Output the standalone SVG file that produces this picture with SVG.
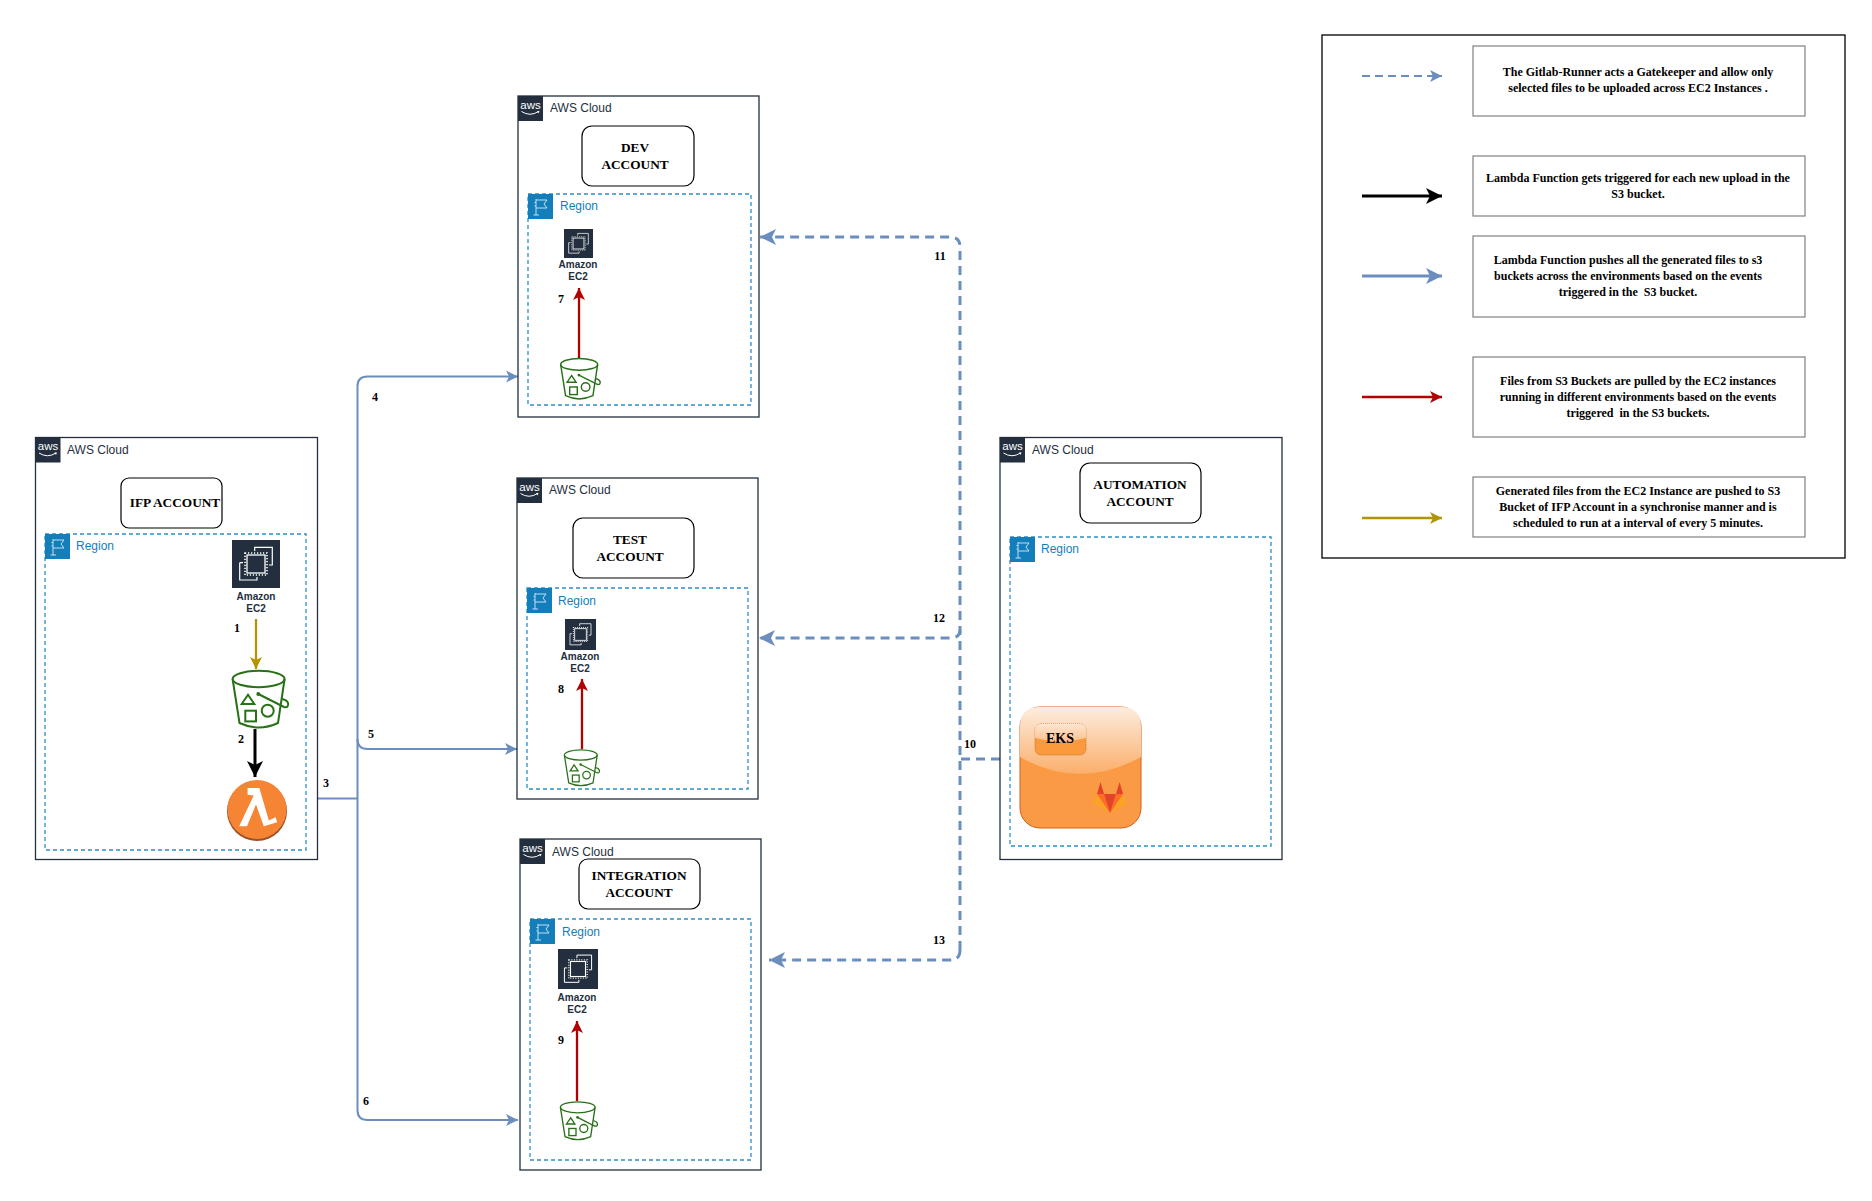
<svg xmlns="http://www.w3.org/2000/svg" xmlns:xlink="http://www.w3.org/1999/xlink" width="1872" height="1201" viewBox="0 0 1872 1201">
<style>
.cloud{fill:#fff;stroke:#232F3E;stroke-width:1.3}
.region{fill:none;stroke:#2E8FC9;stroke-width:1.3;stroke-dasharray:4 3}
.acct{fill:#fff;stroke:#000;stroke-width:1.2}
.legend{fill:#fff;stroke:#808080;stroke-width:1.2}
.t{font-family:"Liberation Serif","Times New Roman",serif;font-weight:bold;fill:#000;text-anchor:middle}
.a{font-size:13.3px}
.n{font-size:12px}
.l{font-size:12px}
.cl{font-family:"Liberation Sans",Arial,sans-serif;font-size:12px;fill:#232F3E}
.rg{font-family:"Liberation Sans",Arial,sans-serif;font-size:12px;fill:#147EBA}
.ec{font-family:"Liberation Sans",Arial,sans-serif;font-size:10px;font-weight:bold;fill:#232F3E;text-anchor:middle}
.line{fill:none;stroke-linejoin:round}
.blue{stroke:#6C8EBF;stroke-width:2}
.dash{stroke:#6C8EBF;stroke-width:3;stroke-dasharray:9 6}
.red{stroke:#B20000;stroke-width:2.3}
.gold{stroke:#B09500;stroke-width:2.3}
.blk{stroke:#000;stroke-width:3}
</style>
<defs>
<marker id="mb" markerUnits="userSpaceOnUse" markerWidth="14" markerHeight="14" refX="12" refY="6" orient="auto" overflow="visible"><path d="M0 0L12 6L0 12L3 6Z" fill="#6C8EBF"/></marker>
<marker id="mB" markerUnits="userSpaceOnUse" markerWidth="18" markerHeight="18" refX="16" refY="8" orient="auto" overflow="visible"><path d="M0 0L16 8L0 16L4 8Z" fill="#6C8EBF"/></marker>
<marker id="mr" markerUnits="userSpaceOnUse" markerWidth="14" markerHeight="14" refX="12" refY="6" orient="auto" overflow="visible"><path d="M0 0L12 6L0 12L3 6Z" fill="#B20000"/></marker>
<marker id="mg" markerUnits="userSpaceOnUse" markerWidth="14" markerHeight="14" refX="12" refY="6" orient="auto" overflow="visible"><path d="M0 0L12 6L0 12L3 6Z" fill="#B09500"/></marker>
<marker id="mk" markerUnits="userSpaceOnUse" markerWidth="18" markerHeight="18" refX="16" refY="8" orient="auto" overflow="visible"><path d="M0 0L16 8L0 16L4 8Z" fill="#000"/></marker>
<symbol id="awsLogo" viewBox="0 0 25 25" overflow="visible">
<rect width="25" height="25" fill="#232F3E"/>
<text x="12.5" y="12.5" text-anchor="middle" font-family="Liberation Sans,Arial,sans-serif" font-size="11.5" fill="#fff">aws</text>
<path d="M3.5 15.5Q12 21 20.5 15.5" fill="none" stroke="#fff" stroke-width="1"/><path d="M19 15L21.5 15L20.5 17.5Z" fill="#fff"/>
</symbol>
<symbol id="flag" viewBox="0 0 25 25">
<rect width="25" height="25" fill="#147EBA"/>
<path d="M8 5V21M5.5 21H11M8 6H19L16 10L19 14H8M6.5 8.5H8M6.5 12H8" fill="none" stroke="#D4EAF7" stroke-width=".9"/>
</symbol>
<symbol id="ec2" viewBox="0 0 48 48">
<rect width="48" height="48" fill="#232F3E"/>
<rect x="15" y="15" width="18" height="18" fill="none" stroke="#fff" stroke-width="1.3"/>
<rect x="13" y="13" width="22" height="22" fill="none" stroke="#fff" stroke-width="1.6" stroke-dasharray="1.2 1.8"/>
<path d="M22.7 11V7.3H40.3V25H37M7.7 22.7V40H25V37M11 22.7H7.7" fill="none" stroke="#fff" stroke-width="1.2"/>
</symbol>
<symbol id="bucket" viewBox="0 0 57 59" overflow="visible">
<g fill="none" stroke="#277116" stroke-width="2">
<ellipse cx="26.6" cy="9" rx="26" ry="8.2"/>
<path d="M.6 9L7.5 53Q26.6 62 46 53L52.6 9"/>
<path d="M16 24.7L9.7 34H22.3Z"/>
<rect x="13.3" y="40.7" width="10.7" height="10.7"/>
<circle cx="35.7" cy="40.7" r="6"/>
<path d="M26.3 24L52 37Q57 38 56 33Q55 30 50 29"/>
</g>
<circle cx="26.3" cy="24" r="2" fill="#277116"/>
</symbol>
<linearGradient id="gl" x1="0" y1="0" x2="0" y2="1"><stop offset="0" stop-color="#FDEDE0"/><stop offset="1" stop-color="#FBAE6A"/></linearGradient>
<linearGradient id="gi" x1="0" y1="0" x2="0" y2="1"><stop offset="0" stop-color="#FEE6D2"/><stop offset="1" stop-color="#FCC08C"/></linearGradient>
</defs>

<g id="connectors">
<path class="line blue" d="M317.500 798.500H357.500"/>
<path class="line blue" marker-end="url(#mb)" d="M357.500 1110V386Q357.500 376.500 367.500 376.500H518"/>
<path class="line blue" marker-end="url(#mb)" d="M357.500 739Q357.500 749 367.500 749H517"/>
<path class="line blue" marker-end="url(#mb)" d="M357.500 1110Q357.500 1120 367.500 1120H518"/>
<path class="line dash" d="M1000 759H960"/>
<path class="line dash" marker-end="url(#mB)" d="M960 950V247Q960 237 950 237H760"/>
<path class="line dash" marker-end="url(#mB)" d="M960 630Q960 638 950 638H759"/>
<path class="line dash" marker-end="url(#mB)" d="M960 950Q960 960 950 960H769"/>
</g>

<g id="ifp-account">
<rect class="cloud" x="35.500" y="437.500" width="282" height="422"/>
<use xlink:href="#awsLogo" href="#awsLogo" x="35.500" y="437.500" width="25" height="25"/>
<text class="cl" x="67" y="454">AWS Cloud</text>
<rect class="acct" x="121" y="478" width="101" height="50" rx="8"/>
<text class="t a" x="175" y="507">IFP ACCOUNT</text>
<rect class="region" x="45" y="534" width="261" height="316"/>
<use xlink:href="#flag" href="#flag" x="45" y="534" width="25" height="25"/>
<text class="rg" x="76" y="550">Region</text>
</g>
<g id="ifp-ec2">
<use xlink:href="#ec2" href="#ec2" x="232" y="540" width="48" height="48"/>
<text class="ec" x="256" y="600">Amazon</text><text class="ec" x="256" y="612">EC2</text>
</g>
<g id="ifp-s3"><use xlink:href="#bucket" href="#bucket" x="232" y="670" width="57" height="59"/></g>
<g id="ifp-lambda">
<circle cx="257" cy="811" r="30" fill="#9D5025"/>
<circle cx="257" cy="809.500" r="29.500" fill="#F58534"/>
<path d="M247.600 788H259.400L268.800 820.600L275.500 817.200L277.200 822.200L263.800 826.200L256 804.500L247 826.200H239.200L253.700 795.500L247.600 794.800Z" fill="#fff"/>
</g>

<g id="dev-account">
<rect class="cloud" x="518" y="96" width="241" height="321"/>
<use xlink:href="#awsLogo" href="#awsLogo" x="518" y="96" width="25" height="25"/>
<text class="cl" x="550" y="112">AWS Cloud</text>
<rect class="acct" x="582" y="126" width="112" height="60" rx="10"/>
<text class="t a" x="635" y="152">DEV</text><text class="t a" x="635" y="169">ACCOUNT</text>
<rect class="region" x="528" y="194" width="223" height="211"/>
<use xlink:href="#flag" href="#flag" x="528" y="194" width="25" height="25"/>
<text class="rg" x="560" y="210">Region</text>
</g>
<g id="dev-ec2">
<use xlink:href="#ec2" href="#ec2" x="564" y="229" width="29" height="29"/>
<text class="ec" x="578" y="268">Amazon</text><text class="ec" x="578" y="280">EC2</text>
</g>
<g id="dev-s3"><use xlink:href="#bucket" href="#bucket" x="560" y="358" width="41" height="42"/></g>

<g id="test-account">
<rect class="cloud" x="517" y="478" width="241" height="321"/>
<use xlink:href="#awsLogo" href="#awsLogo" x="517" y="478" width="25" height="25"/>
<text class="cl" x="549" y="494">AWS Cloud</text>
<rect class="acct" x="573" y="518" width="121" height="60" rx="10"/>
<text class="t a" x="630" y="544">TEST</text><text class="t a" x="630" y="561">ACCOUNT</text>
<rect class="region" x="527" y="588" width="221" height="201"/>
<use xlink:href="#flag" href="#flag" x="527" y="588" width="25" height="25"/>
<text class="rg" x="558" y="605">Region</text>
</g>
<g id="test-ec2">
<use xlink:href="#ec2" href="#ec2" x="565" y="619" width="31" height="31"/>
<text class="ec" x="580" y="660">Amazon</text><text class="ec" x="580" y="672">EC2</text>
</g>
<g id="test-s3"><use xlink:href="#bucket" href="#bucket" x="564" y="749" width="36" height="38"/></g>

<g id="integration-account">
<rect class="cloud" x="520" y="839" width="241" height="331"/>
<use xlink:href="#awsLogo" href="#awsLogo" x="520" y="839" width="25" height="25"/>
<text class="cl" x="552" y="856">AWS Cloud</text>
<rect class="acct" x="579" y="859" width="121" height="50" rx="9"/>
<text class="t a" x="639" y="880">INTEGRATION</text><text class="t a" x="639" y="897">ACCOUNT</text>
<rect class="region" x="530" y="919" width="221" height="241"/>
<use xlink:href="#flag" href="#flag" x="530" y="919" width="25" height="25"/>
<text class="rg" x="562" y="936">Region</text>
</g>
<g id="integration-ec2">
<use xlink:href="#ec2" href="#ec2" x="558" y="949" width="40" height="40"/>
<text class="ec" x="577" y="1001">Amazon</text><text class="ec" x="577" y="1013">EC2</text>
</g>
<g id="integration-s3"><use xlink:href="#bucket" href="#bucket" x="560" y="1101" width="38" height="40"/></g>

<g id="automation-account">
<rect class="cloud" x="1000" y="437.500" width="282" height="422"/>
<use xlink:href="#awsLogo" href="#awsLogo" x="1000" y="437.500" width="25" height="25"/>
<text class="cl" x="1032" y="454">AWS Cloud</text>
<rect class="acct" x="1080" y="463" width="121" height="60" rx="10"/>
<text class="t a" x="1140" y="489">AUTOMATION</text><text class="t a" x="1140" y="506">ACCOUNT</text>
<rect class="region" x="1010" y="537" width="261" height="309"/>
<use xlink:href="#flag" href="#flag" x="1010" y="537" width="25" height="25"/>
<text class="rg" x="1041" y="553">Region</text>
</g>
<g id="eks">
<rect x="1020" y="707" width="121" height="121" rx="20" fill="#FB9A44" stroke="#D4601C" stroke-width="1"/>
<path d="M1020 757V727Q1020 707 1040 707H1121Q1141 707 1141 727V757Q1110 774 1080 774Q1050 774 1020 757Z" fill="url(#gl)"/>
<rect x="1035" y="724" width="51" height="31" rx="6" fill="#FB9A3C" stroke="#B5651D" stroke-width=".8" stroke-dasharray="1 1"/>
<path d="M1035 738V730Q1035 724 1041 724H1080Q1086 724 1086 730V738Q1060 745 1035 738Z" fill="url(#gi)"/>
<text class="t" font-size="14" x="1060" y="743">EKS</text>
<g id="gitlab-logo">
<path d="M1097 794L1093 803L1110 813Z" fill="#FCA326"/><path d="M1123 794L1127 803L1110 813Z" fill="#FCA326"/>
<path d="M1097 794H1104L1110 813Z" fill="#FC6D26"/><path d="M1123 794H1116L1110 813Z" fill="#FC6D26"/>
<path d="M1104 794H1116L1110 813Z" fill="#E24329"/>
<path d="M1100.500 782L1097 794H1104Z" fill="#E24329"/><path d="M1119.500 782L1123 794H1116Z" fill="#E24329"/>
</g>
</g>

<g id="inner-connectors">
<path class="line gold" marker-end="url(#mg)" d="M256 619V669"/>
<path class="line blk" marker-end="url(#mk)" d="M255 729V777"/>
<path class="line red" marker-end="url(#mr)" d="M579 358V288"/>
<path class="line red" marker-end="url(#mr)" d="M582 749V679"/>
<path class="line red" marker-end="url(#mr)" d="M577 1101V1021"/>
</g>

<g id="numbers">
<text class="t n" x="237" y="632">1</text>
<text class="t n" x="241" y="743">2</text>
<text class="t n" x="326" y="787">3</text>
<text class="t n" x="375" y="401">4</text>
<text class="t n" x="371" y="738">5</text>
<text class="t n" x="366" y="1105">6</text>
<text class="t n" x="561" y="303">7</text>
<text class="t n" x="561" y="693">8</text>
<text class="t n" x="561" y="1044">9</text>
<text class="t n" x="970" y="748">10</text>
<text class="t n" x="940" y="260">11</text>
<text class="t n" x="939" y="622">12</text>
<text class="t n" x="939" y="944">13</text>
</g>

<g id="legend">
<rect x="1322" y="35" width="523" height="523" fill="#fff" stroke="#000" stroke-width="1.3"/>
<g id="legend-1">
<rect class="legend" x="1473" y="46" width="332" height="70"/>
<text class="t l" x="1638" y="76">The Gitlab-Runner acts a Gatekeeper and allow only</text>
<text class="t l" x="1638" y="92">selected files to be uploaded across EC2 Instances .</text>
<path class="line blue" stroke-dasharray="8 5" marker-end="url(#mb)" d="M1362 76H1442"/>
</g>
<g id="legend-2">
<rect class="legend" x="1473" y="156" width="332" height="60"/>
<text class="t l" x="1638" y="182">Lambda Function gets triggered for each new upload in the</text>
<text class="t l" x="1638" y="198">S3 bucket.</text>
<path class="line blk" marker-end="url(#mk)" d="M1362 196H1442"/>
</g>
<g id="legend-3">
<rect class="legend" x="1473" y="236" width="332" height="81"/>
<text class="t l" x="1628" y="264">Lambda Function pushes all the generated files to s3</text>
<text class="t l" x="1628" y="280">buckets across the environments based on the events</text>
<text class="t l" x="1628" y="296">triggered in the &#160;S3 bucket.</text>
<path class="line" stroke="#6C8EBF" stroke-width="3" marker-end="url(#mB)" d="M1362 276H1442"/>
</g>
<g id="legend-4">
<rect class="legend" x="1473" y="357" width="332" height="80"/>
<text class="t l" x="1638" y="385">Files from S3 Buckets are pulled by the EC2 instances</text>
<text class="t l" x="1638" y="401">running in different environments based on the events</text>
<text class="t l" x="1638" y="417">triggered &#160;in the S3 buckets.</text>
<path class="line red" marker-end="url(#mr)" d="M1362 397H1442"/>
</g>
<g id="legend-5">
<rect class="legend" x="1473" y="477" width="332" height="60"/>
<text class="t l" x="1638" y="495">Generated files from the EC2 Instance are pushed to S3</text>
<text class="t l" x="1638" y="511">Bucket of IFP Account in a synchronise manner and is</text>
<text class="t l" x="1638" y="527">scheduled to run at a interval of every 5 minutes.</text>
<path class="line gold" marker-end="url(#mg)" d="M1362 518H1442"/>
</g>
</g>
</svg>
